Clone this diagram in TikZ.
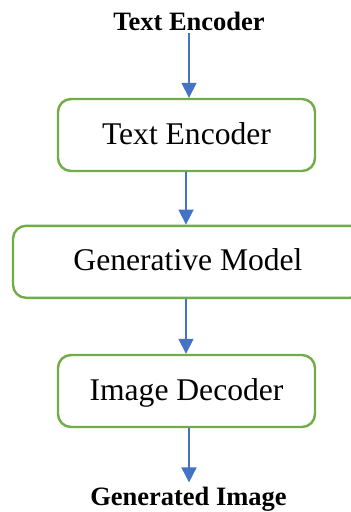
\documentclass[tikz,border=0pt]{standalone}
\usepackage{fontspec}
\setmainfont{Liberation Serif}
\usetikzlibrary{arrows.meta}
\definecolor{boxgreen}{HTML}{70AD47}
\definecolor{arrblue}{HTML}{4472C4}
\tikzset{
  stagebox/.style={draw=boxgreen, line width=2.4pt, rounded corners=13pt, fill=white,
    minimum height=72pt, inner sep=0pt, text height=21.9pt, text depth=3.7pt,
    font=\fontsize{31.6}{36}\selectfont},
  endlabel/.style={font=\bfseries\fontsize{26.5}{30}\selectfont, anchor=base},
  flow/.style={draw=arrblue, line width=1.6pt, -{Triangle[width=15pt,length=15pt]}}
}
\begin{document}
\begin{tikzpicture}[x=1pt,y=-1pt]
  \useasboundingbox (0,0) rectangle (351,512);
  \clip (0,0) rectangle (351,512);
  \fill[white] (0,0) rectangle (351,512);
  \node[endlabel, inner sep=2pt] (top) at (189,30.7) {Text Encoder};
  \node[stagebox, minimum width=257pt] (enc) at (186.5,135) {Text Encoder};
  \node[stagebox, minimum width=350pt] (gen) at (188,261.8) {Generative Model};
  \node[stagebox, minimum width=257pt] (dec) at (186.5,391) {Image Decoder};
  \node[endlabel, inner sep=4pt] (out) at (188.5,505) {Generated Image};
  \coordinate (midx) at (186,0);
  \draw[flow] (top.south) -- (top.south |- enc.north);
  \draw[flow] (enc.south -| midx) -- (gen.north -| midx);
  \draw[flow] (gen.south -| midx) -- (dec.north -| midx);
  \draw[flow] (dec.south -| top.south) -- (out.north -| top.south);
\end{tikzpicture}
\end{document}
